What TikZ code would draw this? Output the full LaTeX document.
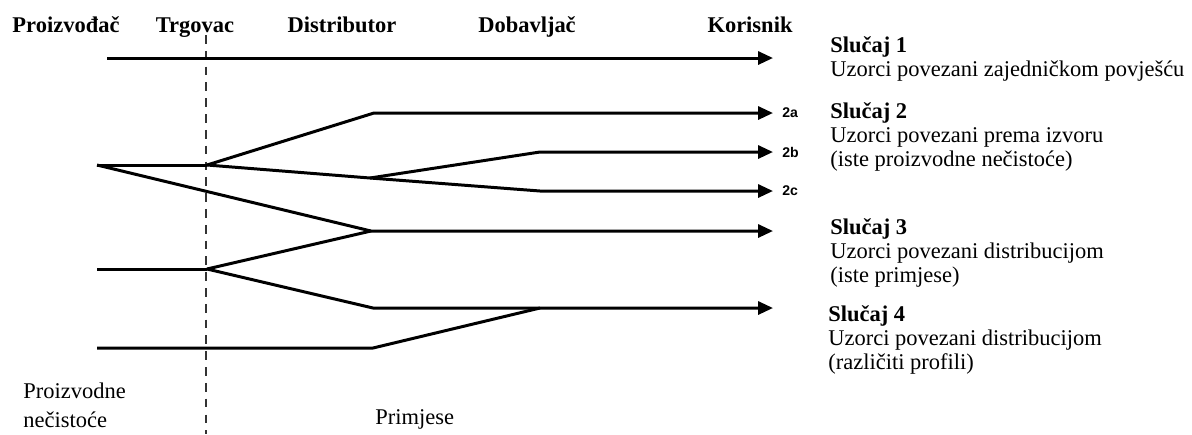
\documentclass[tikz,border=0pt]{standalone}
\usepackage{fontspec}
\setmainfont{Liberation Serif}
\newfontfamily\tagfont{Liberation Sans}
\usetikzlibrary{arrows.meta}

\begin{document}
\begin{tikzpicture}[x=0.02cm,y=-0.02cm,
  flowline/.style={line width=1.7pt},
  arr/.style={flowline,-{Triangle[length=8.5pt,width=7.4pt]}},
  stage/.style={anchor=base,inner sep=0pt,font=\bfseries\fontsize{12.8}{15}\selectfont},
  casetext/.style={anchor=north west,align=left,inner sep=0pt,font=\fontsize{12.8}{13.7}\selectfont},
  subtag/.style={anchor=west,inner sep=0pt,font=\tagfont\bfseries\fontsize{8}{9}\selectfont}]
\useasboundingbox (0,0) rectangle (1192,434);

% stages
\node[stage] (prod) at (66,32) {Proizvođač};
\node[stage] (trg) at (195,32) {Trgovac};
\node[stage] (dist) at (342,32) {Distributor};
\node[stage] (dob) at (527,32) {Dobavljač};
\node[stage] (kor) at (750,32) {Korisnik};

% dashed border
\coordinate (dtop) at (206,35);
\coordinate (dbot) at (206,434);
\draw[black!80,line width=0.8pt,dash pattern=on 5pt off 4pt] (dtop) -- (dbot);

% points
\coordinate (s1) at (107,58);   \coordinate (e1) at (773,58);
\coordinate (src2) at (97,165); \coordinate (tr2) at (207,165);
\coordinate (a1) at (374,113);  \coordinate (e2a) at (773,113);
\coordinate (d2) at (370,178);
\coordinate (b1) at (540,152);  \coordinate (e2b) at (773,152);
\coordinate (c1) at (540,191);  \coordinate (e2c) at (773,191);
\coordinate (d3) at (371,231);  \coordinate (e3) at (773,231);
\coordinate (src3) at (97,269); \coordinate (tr3) at (207,269);
\coordinate (d4) at (373,308);  \coordinate (m4) at (540,308);
\coordinate (e4) at (773,308);
\coordinate (src4) at (97,348); \coordinate (d5) at (373,348);

% flows
\draw[arr] (s1) -- (e1);
\draw[flowline] (src2) -- (tr2);
\draw[arr] (tr2) -- (a1) -- (e2a);
\draw[flowline] (tr2) -- (d2);
\draw[arr] (d2) -- (b1) -- (e2b);
\draw[arr] (d2) -- (c1) -- (e2c);
\draw[arr] (src2) -- (d3) -- (e3);
\draw[flowline] (src3) -- (tr3);
\draw[flowline] (tr3) -- (d3);
\draw[arr] (tr3) -- (d4) -- (e4);
\draw[flowline] (src4) -- (d5) -- (m4);

\node[subtag] (t2a) at (782,113) {2a};
\node[subtag] (t2b) at (782,152) {2b};
\node[subtag] (t2c) at (782,191) {2c};

% cases
\node[casetext] (c1txt) at (830,36) {\textbf{Slučaj 1}\\Uzorci povezani zajedničkom povješću};
\node[casetext] (c2txt) at (830,102) {\textbf{Slučaj 2}\\Uzorci povezani prema izvoru\\(iste proizvodne nečistoće)};
\node[casetext] (c3txt) at (830,218) {\textbf{Slučaj 3}\\Uzorci povezani distribucijom\\(iste primjese)};
\node[casetext] (c4txt) at (828,305) {\textbf{Slučaj 4}\\Uzorci povezani distribucijom\\(različiti profili)};

% bottom
\node[anchor=north west,align=left,inner sep=0pt,font=\fontsize{12.8}{16.5}\selectfont] (imp) at (23,383) {Proizvodne\\nečistoće};
\node[anchor=base west,inner sep=0pt,font=\fontsize{12.8}{15}\selectfont] (prim) at (375,424) {Primjese};
\end{tikzpicture}
\end{document}
